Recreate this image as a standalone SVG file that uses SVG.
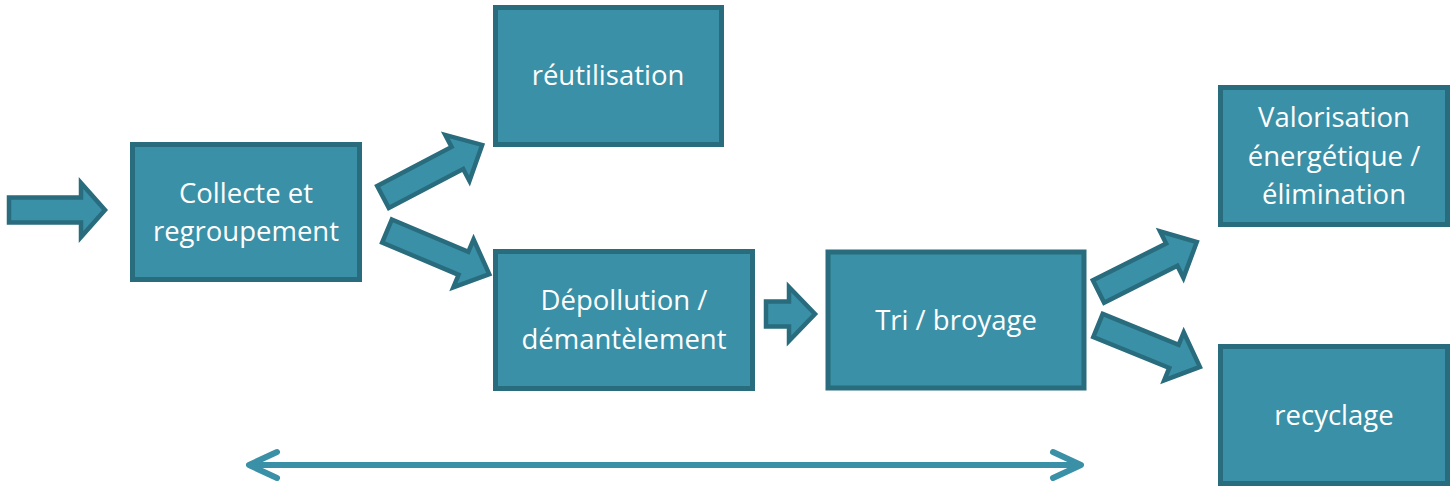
<svg xmlns="http://www.w3.org/2000/svg" width="1456" height="488" viewBox="0 0 1456 488">
<style>
.box{fill:#3A90A7;stroke:#286C7D;stroke-width:5;}
.arr{fill:#3A90A7;stroke:#286C7D;stroke-width:4.5;stroke-linejoin:miter;}
.lbl{font-family:"Open Sans",Lato,sans-serif;font-size:27.5px;fill:#ffffff;text-anchor:middle;}
.dbl{fill:none;stroke:#3A90A7;stroke-width:6;stroke-linecap:round;stroke-linejoin:round;}
</style>
<rect width="1456" height="488" fill="#ffffff"/>
<g id="connectors">
<polygon class="arr" transform="translate(9,210)" points="0,-12.5 72,-12.5 72,-27 96,0 72,27 72,12.5 0,12.5"/>
<polygon class="arr" transform="translate(383,197) rotate(-27.7)" points="0,-12.5 84,-12.5 84,-26 112,0 84,26 84,12.5 0,12.5"/>
<polygon class="arr" transform="translate(387,231) rotate(22.9)" points="0,-12.5 83,-12.5 83,-26 111,0 83,26 83,12.5 0,12.5"/>
<polygon class="arr" transform="translate(766,314)" points="0,-12.5 23,-12.5 23,-27 49,0 23,27 23,12.5 0,12.5"/>
<polygon class="arr" transform="translate(1098.5,291.5) rotate(-26.7)" points="0,-12.5 82,-12.5 82,-26 110,0 82,26 82,12.5 0,12.5"/>
<polygon class="arr" transform="translate(1098,325.5) rotate(22.1)" points="0,-12.5 82,-12.5 82,-26 110,0 82,26 82,12.5 0,12.5"/>
<g id="double-arrow">
<line class="dbl" x1="252" y1="465" x2="1078" y2="465"/>
<polyline class="dbl" stroke-width="7" points="277,452 249,465 277,478"/>
<polyline class="dbl" stroke-width="7" points="1053,452 1081,465 1053,478"/>
</g>
</g>
<g id="collecte">
<rect class="box" x="132.5" y="144.5" width="227" height="135"/>
<text class="lbl" x="246" y="203">Collecte et</text>
<text class="lbl" x="246" y="241">regroupement</text>
</g>
<g id="reutilisation">
<rect class="box" x="495.5" y="7.5" width="226" height="137"/>
<text class="lbl" x="608" y="85">réutilisation</text>
</g>
<g id="depollution">
<rect class="box" x="495.5" y="251.5" width="257" height="137"/>
<text class="lbl" x="624" y="310">Dépollution /</text>
<text class="lbl" x="624" y="349">démantèlement</text>
</g>
<g id="tri">
<rect class="box" x="828" y="252" width="256" height="136"/>
<text class="lbl" x="956" y="330">Tri / broyage</text>
</g>
<g id="valorisation">
<rect class="box" x="1220.5" y="87.5" width="227" height="137"/>
<text class="lbl" x="1334" y="127">Valorisation</text>
<text class="lbl" x="1334" y="166">énergétique /</text>
<text class="lbl" x="1334" y="204">élimination</text>
</g>
<g id="recyclage">
<rect class="box" x="1220.5" y="346.5" width="227" height="137"/>
<text class="lbl" x="1334" y="425">recyclage</text>
</g>
</svg>
